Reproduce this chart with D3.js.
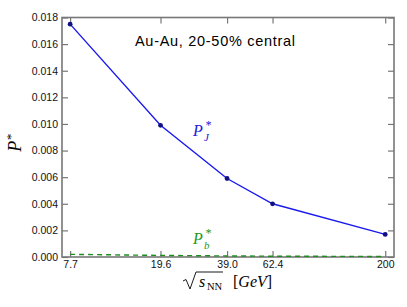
<!DOCTYPE html>
<html><head><meta charset="utf-8">
<script src="https://cdn.jsdelivr.net/npm/d3@7"></script>
<style>body{margin:0;background:#fff}svg{display:block}</style>
</head><body>
<script>
const energies = [7.7, 19.6, 39.0, 62.4, 200];
const energyLabels = ["7.7", "19.6", "39.0", "62.4", "200"];
const PJ = [0.0175, 0.0099, 0.0059, 0.0040, 0.0017];
const Pb = [0.00020, 0.00012, 0.00008, 0.00006, 0.00004];
const yTicks = [0, 0.002, 0.004, 0.006, 0.008, 0.010, 0.012, 0.014, 0.016, 0.018];

const W = 407, H = 307;
const m = {l: 62, r: 13, t: 17.5, b: 50};
const svg = d3.select("body").append("svg").attr("width", W).attr("height", H);
const x = d3.scaleLog().domain([7.08, 219]).range([m.l, W - m.r]);
const y = d3.scaleLinear().domain([0, 0.018]).range([H - m.b, m.t]);
const axisCol = "#777";
const sans = "Liberation Sans, Arial, sans-serif";
const serif = "Liberation Serif, DejaVu Serif, serif";

const tl = 6;
const fmtY = d3.format(".3f");
function drawAxis(axis, tr, labelFn) {
  const s = svg.append("g").attr("transform", tr).call(axis);
  s.select(".domain").remove();
  s.selectAll("line").attr("stroke", axisCol).attr("stroke-width", 1.2);
  s.selectAll("text").attr("font-family", sans).attr("font-size", 10.5).attr("fill", "#111");
  if (labelFn) labelFn(s.selectAll("text"));
}
drawAxis(d3.axisLeft(y).tickValues(yTicks).tickSize(-tl).tickFormat(fmtY), `translate(${m.l},0)`, t => t.attr("x", -4));
drawAxis(d3.axisRight(y).tickValues(yTicks).tickSize(-tl).tickFormat(""), `translate(${W - m.r},0)`);
drawAxis(d3.axisBottom(x).tickValues(energies).tickSize(-tl).tickFormat((d,i)=>energyLabels[i]), `translate(0,${H - m.b})`, t => t.attr("y", 4));
drawAxis(d3.axisTop(x).tickValues(energies).tickSize(-tl).tickFormat(""), `translate(0,${m.t})`);

svg.append("rect").attr("x", m.l).attr("y", m.t).attr("width", W - m.r - m.l).attr("height", H - m.b - m.t)
  .attr("fill", "none").attr("stroke", axisCol).attr("stroke-width", 1.6);

const line = d3.line().x((d,i)=>x(energies[i])).y(d=>y(d));
svg.append("path").datum(PJ).attr("d", line).attr("fill", "none").attr("stroke", "#1a1aee").attr("stroke-width", 1.4);
svg.selectAll("circle.pj").data(PJ).enter().append("circle")
  .attr("cx", (d,i)=>x(energies[i])).attr("cy", d=>y(d)).attr("r", 2.4).attr("fill", "#101080");
svg.append("path").datum(Pb).attr("d", line).attr("fill", "none").attr("stroke", "#1e8c1e").attr("stroke-width", 1.4).attr("stroke-dasharray", "5,4");

svg.append("text").attr("x", 135).attr("y", 45.5).attr("font-family", sans).attr("font-size", 14.5)
  .attr("textLength", 160).attr("fill", "#000").text("Au-Au, 20-50% central");

function mathLabel(px, py, sub, col) {
  const base = () => svg.append("text").attr("font-family", serif).attr("fill", col).attr("font-style", "italic");
  base().attr("x", px).attr("y", py).attr("font-size", 16).text("P");
  base().attr("x", px + 12).attr("y", py - 7).attr("font-size", 12).text("*");
  base().attr("x", px + 11).attr("y", py + 5).attr("font-size", 11).text(sub);
}
mathLabel(193, 136, "J", "#2020e0");
mathLabel(193, 244, "b", "#229922");

// y label
const yl = svg.append("text").attr("transform", "translate(21,143) rotate(-90)").attr("text-anchor", "middle")
  .attr("font-family", serif).attr("font-style", "italic").attr("font-size", 18).attr("fill", "#000");
yl.append("tspan").text("P");
yl.append("tspan").attr("font-size", 13).attr("dy", -6).text("*");

// x label with drawn radical
svg.append("path").attr("d", "M183,281 L186,279.5 L190,289 L196,272 L223,272")
  .attr("fill", "none").attr("stroke", "#000").attr("stroke-width", 0.9);
svg.append("text").attr("x", 199).attr("y", 287).attr("font-family", serif).attr("font-style", "italic").attr("font-size", 16).attr("fill", "#000").text("s");
svg.append("text").attr("x", 207).attr("y", 290).attr("font-family", serif).attr("font-size", 10.5).attr("fill", "#000").text("NN");
const xl = svg.append("text").attr("x", 233).attr("y", 287).attr("font-family", serif).attr("font-size", 16).attr("fill", "#000");
xl.append("tspan").text("[");
xl.append("tspan").attr("font-style", "italic").text("GeV");
xl.append("tspan").text("]");
</script>
</body></html>
